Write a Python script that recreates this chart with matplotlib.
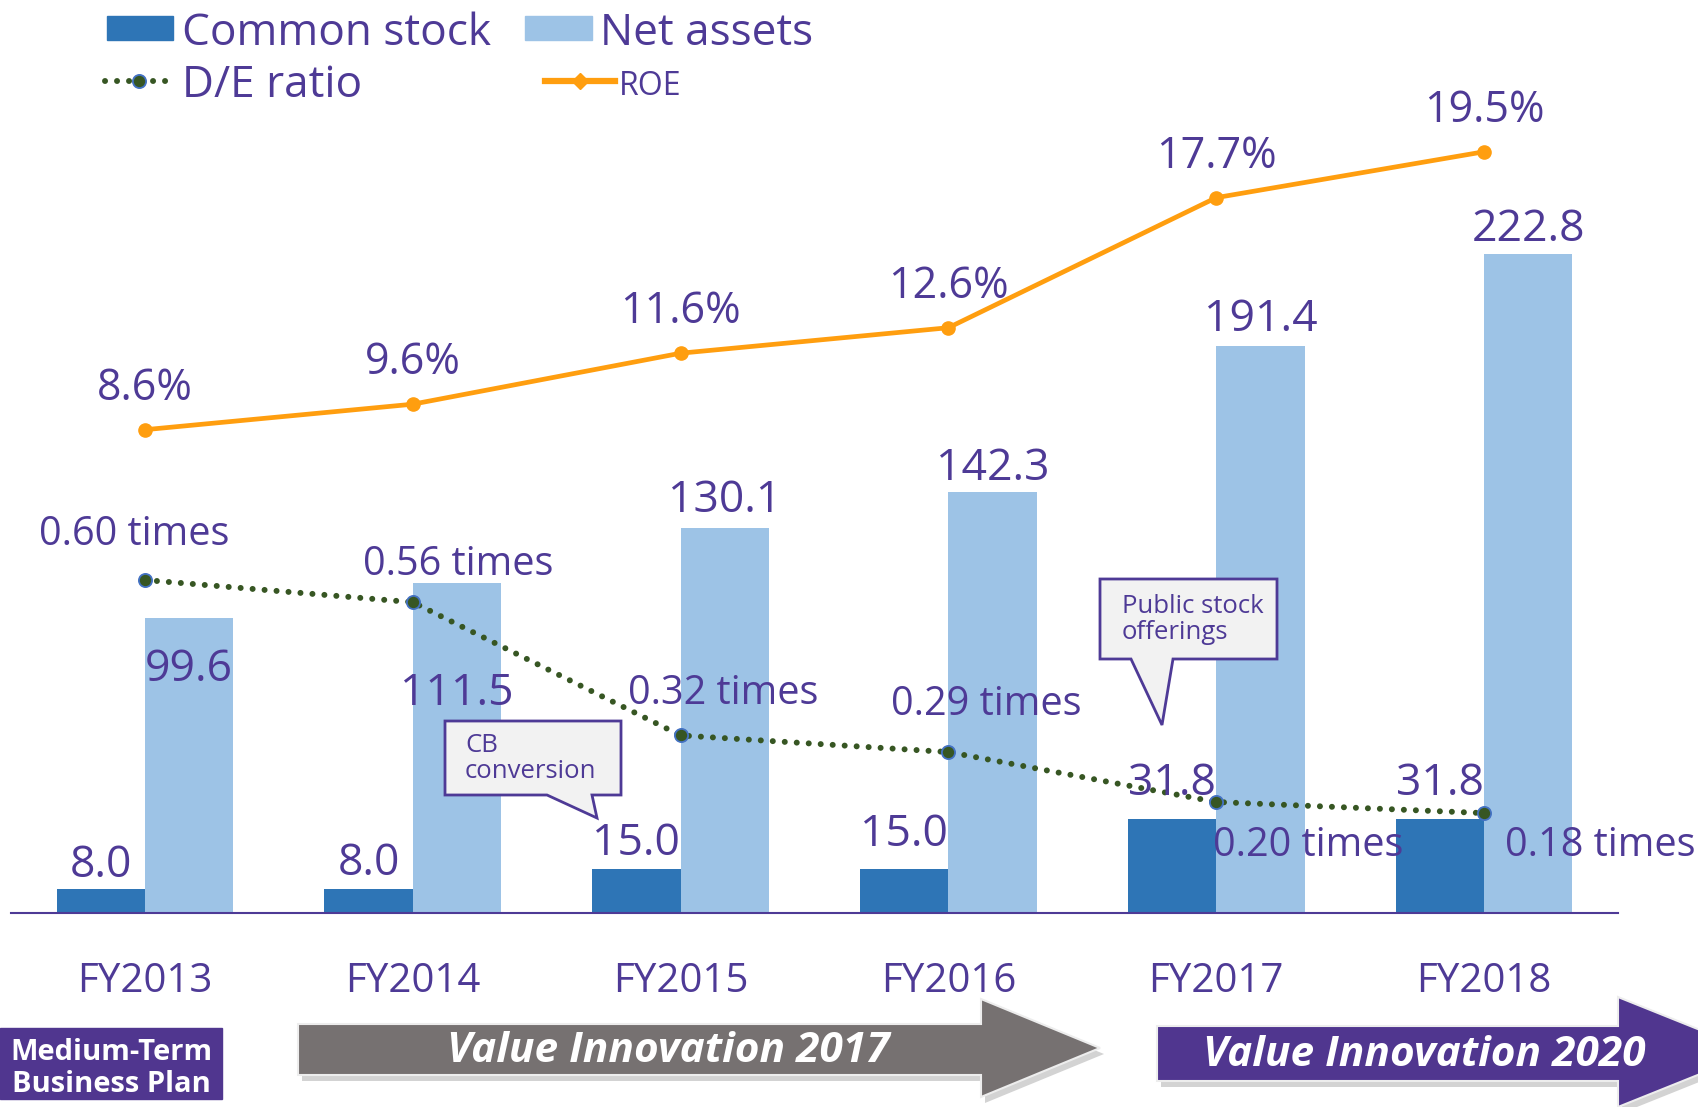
import numpy as np
import matplotlib
matplotlib.use('Agg')
import matplotlib.pyplot as plt
from matplotlib.patches import Polygon, Rectangle
from matplotlib.lines import Line2D

plt.rcParams['font.family'] = ['Open Sans', 'DejaVu Sans']

# data
years = ['FY2013', 'FY2014', 'FY2015', 'FY2016', 'FY2017', 'FY2018']
common_stock = [8.0, 8.0, 15.0, 15.0, 31.8, 31.8]
net_assets = [99.6, 111.5, 130.1, 142.3, 191.4, 222.8]
de_ratio = [0.60, 0.56, 0.32, 0.29, 0.20, 0.18]
roe = [8.6, 9.6, 11.6, 12.6, 17.7, 19.5]

# label offsets (pixels)
cs_dy = [24, 26, 25, 34, 35, 35]
na_dy = [-52, -111, 27, 23, 27, 24]
roe_dy = 41
de_off = [(-11, 45), (45, 37), (43, 42), (38, 47), (92, -44), (116, -33)]

TXT = '#4E3A96'
C_CS = '#2E75B6'
C_NA = '#9DC3E6'
C_ROE = '#FF9E0F'
C_DE = '#375623'
PURPLE = '#50368F'
GRAY = '#767171'

W, H = 1699, 1107
fig = plt.figure(figsize=(W / 100, H / 100), dpi=100)


def fp(x, y):
    # pixel (from top-left) -> figure fraction
    return (x / W, 1 - y / H)


ax = fig.add_axes([11 / W, 1 - 913 / H, 1607 / W, 873 / H])
x = np.arange(len(years))
ax.bar(x - 0.33, common_stock, width=0.33, align='edge', color=C_CS, zorder=2)
ax.bar(x, net_assets, width=0.33, align='edge', color=C_NA, zorder=2)
ax.set_xlim(-0.5, 5.5)
ax.set_ylim(0, 873 / 2.96)
for s in ['top', 'left', 'right']:
    ax.spines[s].set_visible(False)
ax.spines['bottom'].set_color(TXT)
ax.spines['bottom'].set_linewidth(1.5)
ax.set_yticks([])
ax.set_xticks(x)
ax.set_xticklabels(years, fontsize=29, color=TXT)
ax.tick_params(axis='x', length=0, pad=35)

ax2 = ax.twinx()
ax2.set_ylim(0, 873 / 555)
ax3 = ax.twinx()
ax3.set_ylim(-264 / 25.5, (873 - 264) / 25.5)
for a in (ax2, ax3):
    a.set_yticks([])
    for s in a.spines.values():
        s.set_visible(False)
    a.set_xlim(-0.5, 5.5)

ax2.plot(x, de_ratio, color=C_DE, lw=4.3, linestyle=(0, (0.01, 2.0)),
         dash_capstyle='round', marker='o', markersize=9.5,
         markerfacecolor=C_DE, markeredgecolor='#4472C4', markeredgewidth=1.3, zorder=3)
ax3.plot(x, roe, color=C_ROE, lw=3.4, marker='o', markersize=9.5, zorder=3)

# value labels
for i in range(len(years)):
    ax3.annotate('%.1f' % common_stock[i], xy=(x[i] - 0.165, common_stock[i]),
                 xycoords=ax.transData, xytext=(0, cs_dy[i]), textcoords='offset pixels',
                 ha='center', va='center', fontsize=32, color=TXT, zorder=5)
    ax3.annotate('%.1f' % net_assets[i], xy=(x[i] + 0.165, net_assets[i]),
                 xycoords=ax.transData, xytext=(0, na_dy[i]), textcoords='offset pixels',
                 ha='center', va='center', fontsize=32, color=TXT, zorder=5)
    ax3.annotate('%.1f%%' % roe[i], xy=(x[i], roe[i]), xytext=(0, roe_dy),
                 textcoords='offset pixels', ha='center', va='center',
                 fontsize=31, color=TXT, zorder=5)
    ax3.annotate('%.2f times' % de_ratio[i], xy=(x[i], de_ratio[i]),
                 xycoords=ax2.transData, xytext=de_off[i], textcoords='offset pixels',
                 ha='center', va='center', fontsize=28.5, color=TXT, zorder=5)

# legend
fig.patches.append(Rectangle(fp(107, 40), 66 / W, 24 / H, color=C_CS, transform=fig.transFigure))
fig.patches.append(Rectangle(fp(525, 40), 67 / W, 24 / H, color=C_NA, transform=fig.transFigure))
fig.text(*fp(182, 45), 'Common stock', fontsize=31.8, color=TXT, va='baseline')
fig.text(*fp(600, 45), 'Net assets', fontsize=31.8, color=TXT, va='baseline')
lx, ly = zip(fp(105, 81), fp(173, 81))
fig.lines.append(Line2D(lx, ly, transform=fig.transFigure, color=C_DE, lw=4.3,
                        linestyle=(0, (0.01, 2.0)), dash_capstyle='round'))
fig.lines.append(Line2D([fp(139, 81)[0]], [fp(139, 81)[1]], transform=fig.transFigure,
                        marker='o', markersize=9.5, color=C_DE, markeredgecolor='#4472C4',
                        markeredgewidth=1.3))
fig.text(*fp(182, 97), 'D/E ratio', fontsize=31.8, color=TXT, va='baseline')
lx, ly = zip(fp(545, 81), fp(615, 81))
fig.lines.append(Line2D(lx, ly, transform=fig.transFigure, color=C_ROE, lw=4.5))
fig.lines.append(Line2D([fp(580, 81)[0]], [fp(580, 81)[1]], transform=fig.transFigure,
                        marker='D', markersize=8, color=C_ROE))
fig.text(*fp(619, 95), 'ROE', fontsize=23, color=TXT, va='baseline')


def callout(box, tail, lines, tx, ty):
    x0, y0, x1, y1 = box
    pts = [(x0, y0), (x1, y0), (x1, y1), (tail[2][0], y1), tail[1], (tail[0][0], y1), (x0, y1)]
    fig.patches.append(Polygon([fp(*p) for p in pts], closed=True, facecolor='#F2F2F2',
                               edgecolor=TXT, lw=2, transform=fig.transFigure, zorder=6))
    for k, t in enumerate(lines):
        fig.text(*fp(tx, ty + 26 * k), t, fontsize=18.5, color=TXT, va='baseline', zorder=7)


callout((445, 721, 621, 795), [(547, 795), (597, 818), (592, 795)],
        ['CB', 'conversion'], 465, 752)
callout((1100, 579, 1277, 659), [(1131, 659), (1162, 725), (1173, 659)],
        ['Public stock', 'offerings'], 1122, 613)


# bottom banners
def arrow(x0, x1, yt, yb, ht, hb, tip, color):
    yc = (ht + hb) / 2
    pts = [(x0, yt), (x1, yt), (x1, ht), (tip, yc), (x1, hb), (x1, yb), (x0, yb)]
    sh = [(px + 4, py + 6) for px, py in pts]
    fig.patches.append(Polygon([fp(*p) for p in sh], closed=True, facecolor='#C8C8C8',
                               edgecolor='none', alpha=0.8, transform=fig.transFigure))
    fig.patches.append(Polygon([fp(*p) for p in pts], closed=True, facecolor=color,
                               edgecolor='#EDEDED', lw=1.5, transform=fig.transFigure))


arrow(298, 981, 1024, 1075, 999, 1097, 1100, GRAY)
arrow(1157, 1618, 1026, 1081, 997, 1107, 1755, PURPLE)
fig.text(*fp(668, 1051), 'Value Innovation 2017', fontsize=30.5, color='white',
         fontweight='bold', fontstyle='italic', ha='center', va='center')
fig.text(*fp(1424, 1055), 'Value Innovation 2020', fontsize=30.5, color='white',
         fontweight='bold', fontstyle='italic', ha='center', va='center')

fig.patches.append(Rectangle(fp(0, 1099), 222 / W, 71 / H, color=PURPLE, transform=fig.transFigure))
fig.text(*fp(111, 1052), 'Medium-Term', fontsize=21, color='white', fontweight='bold',
         ha='center', va='center')
fig.text(*fp(111, 1084), 'Business Plan', fontsize=21, color='white', fontweight='bold',
         ha='center', va='center')

fig.savefig('out.png', dpi=100)
